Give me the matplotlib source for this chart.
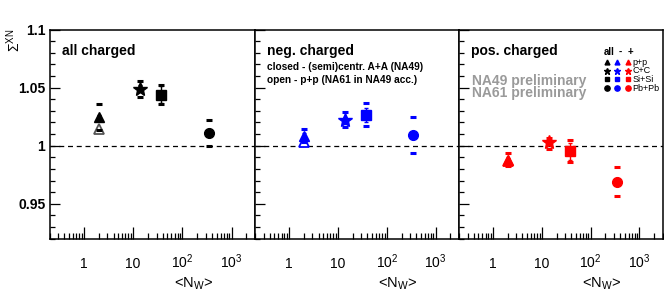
import numpy as np
import matplotlib
matplotlib.use("Agg")
import matplotlib.pyplot as plt
from matplotlib.ticker import FixedLocator, FixedFormatter, LogLocator, MultipleLocator, NullFormatter

plt.rcParams['font.family'] = ['Liberation Sans', 'DejaVu Sans']
plt.rcParams['mathtext.fontset'] = 'custom'
plt.rcParams['mathtext.rm'] = 'Liberation Sans'
plt.rcParams['mathtext.it'] = 'Liberation Sans:italic'
plt.rcParams['mathtext.bf'] = 'Liberation Sans:bold'

# <N_W> for p+p, C+C, Si+Si, Pb+Pb
nw = [2.0, 14.0, 37.0, 350.0]
systems = ["p+p", "C+C", "Si+Si", "Pb+Pb"]

# all charged
all_y = [1.0244, 1.0489, 1.0440, 1.0110]
all_stat = [0.002, 0.003, 0.007, 0.003]
all_hi = [1.0356, 1.0560, 1.0520, 1.0218]
all_lo = [1.0135, 1.0420, 1.0360, 0.9994]
all_open = 1.0144

# negatively charged
neg_y = [1.0080, 1.0218, 1.0267, 1.0089]
neg_stat = [0.003, 0.003, 0.006, 0.003]
neg_hi = [1.0144, 1.0290, 1.0370, 1.0244]
neg_lo = [1.0030, 1.0158, 1.0166, 0.9937]
neg_open = 1.0028

# positively charged
pos_y = [0.9873, 1.0034, 0.9951, 0.9692]
pos_stat = [0.002, 0.003, 0.007, 0.003]
pos_hi = [0.9937, 1.0066, 1.0046, 0.9819]
pos_lo = [0.9828, 0.9972, 0.9856, 0.9569]
pos_open = 0.9865

markers = ["^", "*", "s", "o"]
msizes = [7, 10.5, 6.5, 7]

W, H = 664, 299
fig = plt.figure(figsize=(W / 100, H / 100), dpi=100)

edges = [49.5, 255, 459, 662.7]
top, bot = 29.5, 238.7

panels = [
    ("all charged", "black", all_y, all_stat, all_hi, all_lo, all_open),
    ("neg. charged", "#0000ff", neg_y, neg_stat, neg_hi, neg_lo, neg_open),
    ("pos. charged", "#ff0000", pos_y, pos_stat, pos_hi, pos_lo, pos_open),
]

axes = []
for i, (title, col, y, stat, hi, lo, yopen) in enumerate(panels):
    ax = fig.add_axes([edges[i] / W, 1 - bot / H, (edges[i + 1] - edges[i]) / W, (bot - top) / H])
    axes.append(ax)
    ax.set_xscale("log")
    ax.set_xlim(0.2, 3000)
    ax.set_ylim(0.92, 1.1)
    ax.axhline(1.0, color="black", lw=0.9, ls=(0, (4, 3)), zorder=1)

    # open triangle (p+p NA61)
    opencol = "#555555" if col == "black" else col
    ax.plot([nw[0]], [yopen], marker="^", ms=7, mfc="white", mec=opencol, mew=1.3, ls="none", zorder=3)

    for j in range(4):
        ax.errorbar([nw[j]], [y[j]], yerr=[stat[j]], fmt=markers[j], ms=msizes[j],
                    color=col, ecolor=col, elinewidth=1, capsize=1.5, zorder=4)
        ax.plot([nw[j], nw[j]], [hi[j], lo[j]], ls="none", marker="_", ms=4.5, mew=2.2,
                color=col, zorder=4)

    for s in ax.spines.values():
        s.set_linewidth(1.1)
    ax.xaxis.set_major_locator(FixedLocator([1, 10, 100, 1000]))
    ax.xaxis.set_major_formatter(FixedFormatter(["1", "10", r"$10^{2}$", r"$10^{3}$"]))
    ax.xaxis.set_minor_locator(LogLocator(base=10, subs=np.arange(2, 10), numticks=20))
    ax.xaxis.set_minor_formatter(NullFormatter())
    ax.yaxis.set_major_locator(FixedLocator([0.95, 1.0, 1.05, 1.1]))
    ax.yaxis.set_minor_locator(MultipleLocator(0.01))
    ax.tick_params(axis="x", which="major", direction="in", length=9, width=0.9,
                   pad=21, labelsize=10)
    ax.tick_params(axis="x", which="minor", direction="in", length=4.5, width=0.9)
    ax.tick_params(axis="y", which="major", direction="in", length=7, width=0.9,
                   pad=3, labelsize=10)
    ax.tick_params(axis="y", which="minor", direction="in", length=3.5, width=0.9)
    for lbl in ax.get_xticklabels():
        lbl.set_va("baseline")
    if i == 0:
        ax.set_yticklabels(["0.95", "1", "1.05", "1.1"], fontweight="bold")
    else:
        ax.tick_params(axis="y", which="both", labelleft=False)

    ax.set_xlabel(r"<N$_\mathrm{W}$>", fontsize=10.5)
    ax.xaxis.set_label_coords(0.70, -0.215)
    ax.xaxis.label.set_va("center")

    ax.text(0.06, 0.895, title, transform=ax.transAxes, fontsize=10, fontweight="bold",
            va="center", ha="left")

axes[1].text(0.057, 0.821, "closed - (semi)centr. A+A (NA49)", transform=axes[1].transAxes,
             fontsize=7.3, fontweight="bold", va="center")
axes[1].text(0.057, 0.758, "open - p+p (NA61 in NA49 acc.)", transform=axes[1].transAxes,
             fontsize=7.3, fontweight="bold", va="center")
axes[2].text(0.062, 0.755, "NA49 preliminary", transform=axes[2].transAxes,
             fontsize=10, fontweight="bold", color="#9a9a9a", va="center")
axes[2].text(0.062, 0.695, "NA61 preliminary", transform=axes[2].transAxes,
             fontsize=10, fontweight="bold", color="#9a9a9a", va="center")

# custom legend
lg = axes[2]
cols_x = [0.725, 0.777, 0.828]
cols_c = ["black", "#0000ff", "#ff0000"]
for hx, htxt in zip([0.738, 0.790, 0.842], ["all", "-", "+"]):
    lg.text(hx, 0.892, htxt, transform=lg.transAxes, fontsize=7, fontweight="bold",
            ha="center", va="center")
rows_y = [0.843, 0.803, 0.761, 0.718]
leg_ms = [3.5, 5, 3.3, 3.8]
for r in range(4):
    for c in range(3):
        lg.plot([cols_x[c]], [rows_y[r]], marker=markers[r], ms=leg_ms[r], color=cols_c[c],
                transform=lg.transAxes, clip_on=False, ls="none")
    lg.text(0.852, rows_y[r], systems[r], transform=lg.transAxes, fontsize=6.5,
            ha="left", va="center")

fig.text(0.020, 0.905, r"$\Sigma^{\mathrm{XN}}$", rotation=90, fontsize=10,
         fontweight="bold", ha="center", va="top")

fig.savefig("out.png", dpi=100)
